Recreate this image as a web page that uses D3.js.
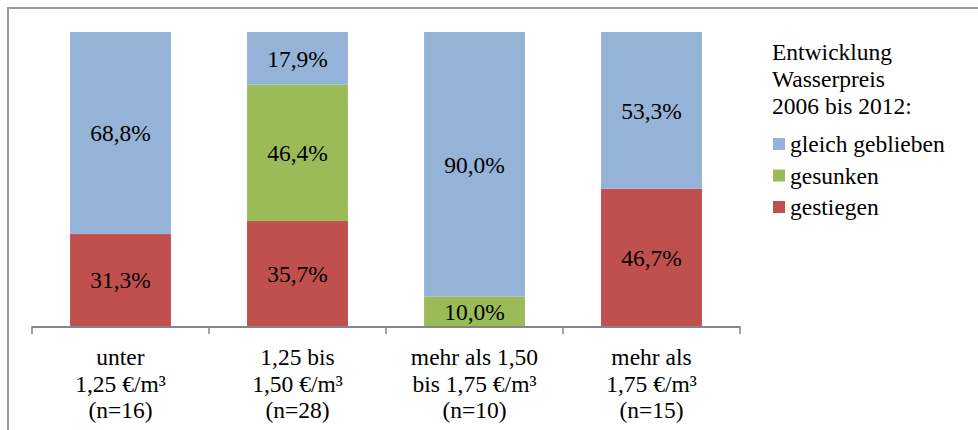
<!DOCTYPE html>
<html>
<head>
<meta charset="utf-8">
<script src="https://cdn.jsdelivr.net/npm/d3@7"></script>
<style>
  html, body { margin: 0; padding: 0; background: #fff; }
  svg { display: block; }
</style>
</head>
<body>
<svg id="chart" width="978" height="430" font-family="'Liberation Serif', Tinos, 'Times New Roman', Times, 'DejaVu Serif', serif"></svg>
<script>
// Price bands (x axis), three label lines each
const categories = ["unter", "1,25 bis", "mehr als 1,50", "mehr als"];
const categoryLines = [
  ["unter", "1,25 €/m³", "(n=16)"],
  ["1,25 bis", "1,50 €/m³", "(n=28)"],
  ["mehr als 1,50", "bis 1,75 €/m³", "(n=10)"],
  ["mehr als", "1,75 €/m³", "(n=15)"]
];

// Share of utilities per price band, in percent
const gestiegen       = [31.3, 35.7, 0.0, 46.7];
const gesunken        = [0.0, 46.4, 10.0, 0.0];
const gleichGeblieben = [68.8, 17.9, 90.0, 53.3];

// Series, bottom to top in the stack
const seriesNames  = ["gestiegen", "gesunken", "gleich geblieben"];
const seriesValues = [gestiegen, gesunken, gleichGeblieben];
const seriesColors = ["#C0504D", "#9BBB59", "#95B3D7"];

// Legend (top to bottom)
const legendTitle = ["Entwicklung", "Wasserpreis", "2006 bis 2012:"];
const legendOrder = [2, 1, 0];

const svg = d3.select("#chart");
const fontSize = 23.5;

// Outer frame of the chart area
svg.append("rect")
  .attr("x", 8).attr("y", 8)
  .attr("width", 1100).attr("height", 600)
  .attr("fill", "none")
  .attr("stroke", "#9a9a9a")
  .attr("stroke-width", 2);

const plotLeft = 32, plotRight = 740, plotTop = 32, plotBottom = 326;

const x = d3.scaleBand()
  .domain(categories)
  .range([plotLeft, plotRight])
  .paddingInner(0.43)
  .paddingOuter(0.215);

const y = d3.scaleLinear().domain([0, 1]).range([plotBottom, plotTop]);

// Build 100% stacked rows
const rows = categories.map((c, i) => {
  const row = { category: c };
  seriesNames.forEach((s, k) => { row[s] = seriesValues[k][i]; });
  return row;
});
const stack = d3.stack().keys(seriesNames).offset(d3.stackOffsetExpand);
const stacked = stack(rows);

const bars = svg.append("g");
stacked.forEach((layer, k) => {
  const g = bars.append("g").attr("fill", seriesColors[k]);
  layer.forEach((d, i) => {
    const h = y(d[0]) - y(d[1]);
    if (h <= 0) return;
    g.append("rect")
      .attr("x", x(categories[i]))
      .attr("y", y(d[1]))
      .attr("width", x.bandwidth())
      .attr("height", h);
  });
});

// Value labels centred in each segment
const labels = svg.append("g")
  .attr("text-anchor", "middle")
  .attr("font-size", fontSize);
stacked.forEach((layer, k) => {
  layer.forEach((d, i) => {
    const v = seriesValues[k][i];
    if (!v) return;
    labels.append("text")
      .attr("x", x(categories[i]) + x.bandwidth() / 2)
      .attr("y", (y(d[0]) + y(d[1])) / 2)
      .attr("dy", "0.35em")
      .text(d3.format(".1f")(v).replace(".", ",") + "%");
  });
});

// Category axis with ticks between the bands
const axisColor = "#868686";
const axis = svg.append("g");
axis.append("line")
  .attr("x1", plotLeft).attr("x2", plotRight)
  .attr("y1", plotBottom + 1).attr("y2", plotBottom + 1)
  .attr("stroke", axisColor).attr("stroke-width", 2);
const boundaries = d3.range(categories.length + 1).map(i => plotLeft + i * x.step());
axis.selectAll("line.tick")
  .data(boundaries)
  .join("line")
  .attr("class", "tick")
  .attr("x1", d => d).attr("x2", d => d)
  .attr("y1", plotBottom).attr("y2", plotBottom + 8)
  .attr("stroke", axisColor).attr("stroke-width", 1.5);

const catLabels = svg.append("g")
  .attr("text-anchor", "middle")
  .attr("font-size", fontSize);
categoryLines.forEach((lines, i) => {
  const cx = x(categories[i]) + x.bandwidth() / 2;
  const t = catLabels.append("text").attr("x", cx).attr("y", 365);
  lines.forEach((ln, j) => {
    t.append("tspan").attr("x", cx).attr("y", 365 + j * 26.5).text(ln);
  });
});

// Legend
const legend = svg.append("g").attr("font-size", fontSize);
legendTitle.forEach((ln, j) => {
  legend.append("text").attr("x", 772).attr("y", 60 + j * 27).text(ln);
});
legendOrder.forEach((k, j) => {
  const by = 152 + j * 31.5;
  legend.append("rect")
    .attr("x", 773).attr("y", by - 14)
    .attr("width", 12).attr("height", 12)
    .attr("fill", seriesColors[k]);
  legend.append("text").attr("x", 790).attr("y", by).text(seriesNames[k]);
});
</script>
</body>
</html>
